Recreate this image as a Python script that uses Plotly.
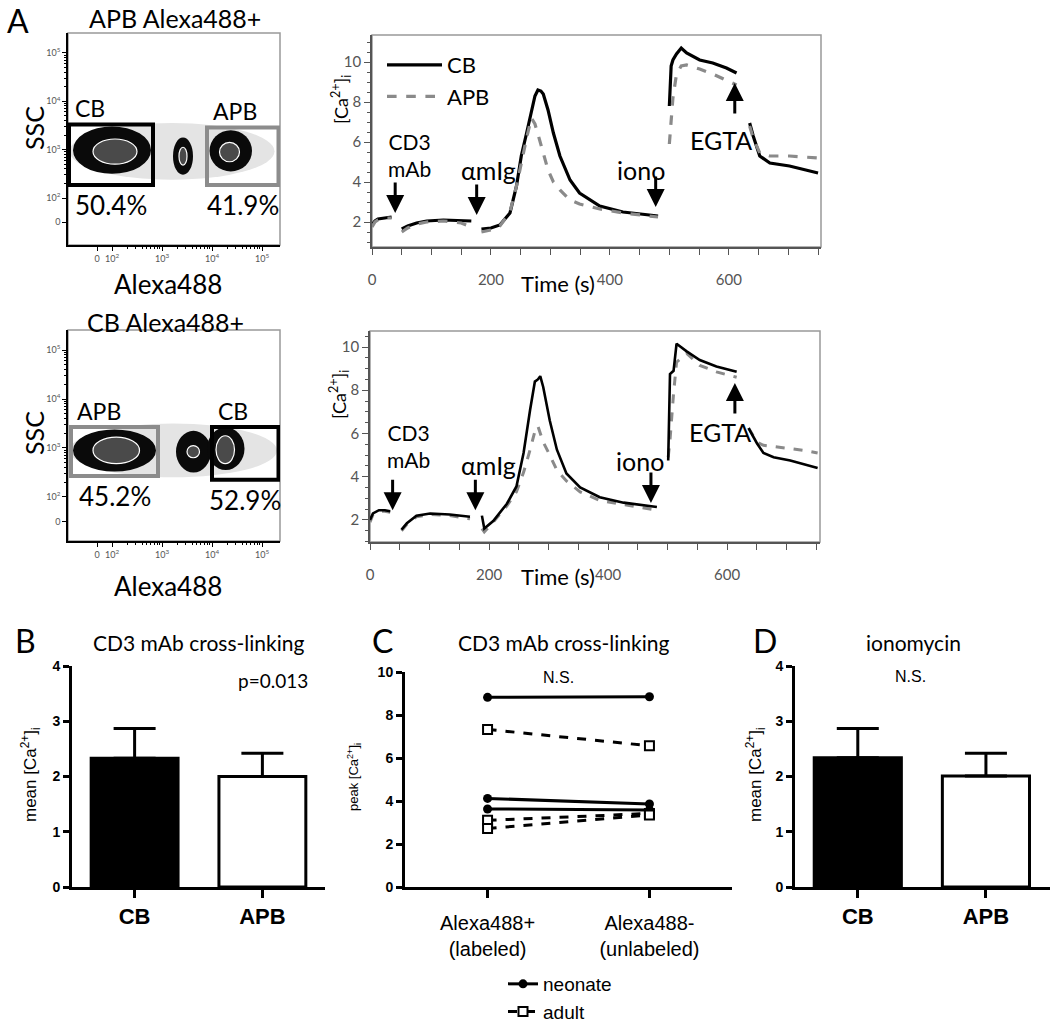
import math
import plotly.graph_objects as go

W, H = 1050, 1022
def px(x): return x / W
def py(y): return 1 - y / H

TXT = "Lato"
ARIAL = "Liberation Sans"

# ---------------- Panel A (flow plots) : axis units are log10 decades ----------------
flow_xtickvals = [1.7, 2, 3, 4, 5]
flow_ytickvals = [1.5, 2, 3, 4, 5]
flow_ticktext = ["0", "10<sup>2</sup>", "10<sup>3</sup>", "10<sup>4</sup>", "10<sup>5</sup>"]

top_halo = [1.15, 5.25, 2.38, 3.55]
top_pop_x0 = [1.22, 3.22, 3.95]
top_pop_x1 = [2.78, 3.62, 4.80]
top_pop_y0 = [2.50, 2.48, 2.55]
top_pop_y1 = [3.48, 3.25, 3.40]
top_core_x0 = [1.62, 3.34, 4.15]
top_core_x1 = [2.50, 3.50, 4.55]
top_core_y0 = [2.70, 2.68, 2.75]
top_core_y1 = [3.22, 3.05, 3.15]

bot_halo = [1.15, 5.30, 2.40, 3.50]
bot_pop_x0 = [1.22, 3.28, 3.90]
bot_pop_x1 = [2.88, 3.98, 4.65]
bot_pop_y0 = [2.52, 2.50, 2.55]
bot_pop_y1 = [3.38, 3.35, 3.42]
bot_core_x0 = [1.62, 3.50, 4.08]
bot_core_x1 = [2.55, 3.75, 4.45]
bot_core_y0 = [2.68, 2.80, 2.68]
bot_core_y1 = [3.22, 3.05, 3.25]

top_gate_name = ["CB", "APB"]
top_gate_pct = ["50.4%", "41.9%"]
top_gate_x0 = [1.14, 3.90]
top_gate_x1 = [2.82, 5.33]
top_gate_y0 = [2.27, 2.27]
top_gate_y1 = [3.52, 3.46]

bot_gate_name = ["APB", "CB"]
bot_gate_pct = ["45.2%", "52.9%"]
bot_gate_x0 = [1.18, 4.00]
bot_gate_x1 = [2.92, 5.33]
bot_gate_y0 = [2.43, 2.35]
bot_gate_y1 = [3.43, 3.43]

gate_color = {"CB": "black", "APB": "#8c8c8c"}

# ---------------- Panel A (calcium traces) ----------------
t_top = [0, 5, 10, 20, 33, None, 50, 60, 75, 92, 120, 150, 167, None,
         184, 200, 215, 232, 243, 251, 260, 268, 274, 279, 284, 288, 296, 305, 316, 333, 349, 383, 422, 481, None,
         500, 503, 506, 512, 520, 529, 551, 573, 596, 613, None,
         635, 641, 652, 669, 702, 730, 750]
cb_top = [1.85, 2.05, 2.15, 2.2, 2.25, None, 1.65, 1.8, 1.95, 2.05, 2.1, 2.05, 2.05, None,
          1.65, 1.7, 1.85, 2.45, 3.8, 5.3, 6.45, 7.6, 8.3, 8.6, 8.55, 8.4, 7.6, 6.45, 5.3, 4.1, 3.45, 2.8, 2.5, 2.3, None,
          7.8, 9.8, 10.1, 10.4, 10.7, 10.45, 10.1, 9.95, 9.7, 9.45, None,
          6.95, 6.3, 5.3, 4.95, 4.8, 4.6, 4.45]
apb_top = [1.75, 2.0, 2.1, 2.2, 2.2, None, 1.5, 1.7, 1.9, 2.0, 2.05, 1.95, 1.75, None,
           1.5, 1.6, 1.8, 2.5, 3.8, 5.0, 6.2, 7.2, 6.9, 6.4, 5.9, 5.4, 4.6, 4.0, 3.6, 3.1, 2.9, 2.65, 2.45, 2.25, None,
           5.9, 7.0, 8.2, 9.4, 9.8, 9.85, 9.65, 9.4, 9.1, 8.85, None,
           6.8, 6.2, 5.45, 5.3, 5.3, 5.25, 5.2]

t_bot = [0, 5, 15, 25, 34, None, 53, 62, 78, 101, 134, 168, None,
         188, 192, 207, 230, 246, 258, 269, 277, 282, 286, 291, 302, 314, 330, 353, 386, 426, 482, None,
         501, 504, 510, 515, 532, 554, 582, 616, None,
         636, 650, 661, 678, 706, 734, 752]
cb_bot = [2.0, 2.3, 2.45, 2.45, 2.4, None, 1.55, 1.85, 2.2, 2.3, 2.25, 2.15, None,
          2.2, 1.6, 1.95, 2.75, 3.55, 5.1, 7.1, 8.4, 8.5, 8.65, 8.15, 6.6, 5.25, 4.15, 3.5, 3.05, 2.8, 2.6, None,
          4.75, 8.75, 8.9, 10.15, 9.8, 9.4, 9.1, 8.85, None,
          6.25, 5.55, 5.1, 4.9, 4.75, 4.55, 4.4]
apb_bot = [1.9, 2.25, 2.4, 2.4, 2.35, None, 1.5, 1.8, 2.15, 2.25, 2.2, 2.05, None,
           1.6, 1.45, 1.9, 2.65, 3.3, 4.2, 5.25, 6.1, 6.35, 6.0, 5.6, 5.0, 4.3, 3.8, 3.3, 2.9, 2.7, 2.45, None,
           4.9, 5.7, 7.85, 9.3, 9.7, 9.15, 8.85, 8.6, None,
           6.25, 5.6, 5.45, 5.4, 5.3, 5.2, 5.1]

event_names = ["CD3<br>mAb", "\u03b1mIg", "iono", "EGTA"]
event_t_top = [39, 176, 477, 610]
event_v_top = [2.45, 2.35, 2.75, 8.95]
event_t_bot = [38, 177, 472, 613]
event_v_bot = [2.45, 2.45, 2.78, 8.33]
event_dir = [1, 1, 1, -1]  # 1 = arrow pointing down, -1 = pointing up

# ---------------- Panels B, C, D ----------------
bar_cats = ["CB", "APB"]
b_mean = [2.33, 2.00]
b_err = [0.54, 0.42]
d_mean = [2.34, 2.01]
d_err = [0.53, 0.41]

c_cats = ["Alexa488+<br>(labeled)", "Alexa488-<br>(unlabeled)"]
neonate_labeled = [8.82, 4.12, 3.63]
neonate_unlabeled = [8.85, 3.86, 3.58]
adult_labeled = [7.33, 3.10, 2.72]
adult_unlabeled = [6.57, 3.42, 3.35]

# =====================================================================
fig = go.Figure()
shapes = []
ann = []

def A(x, y, text, size, family=TXT, xanchor="center", yanchor="middle", **kw):
    ann.append(dict(x=px(x), y=py(y), xref="paper", yref="paper", text=text, showarrow=False,
                    font=dict(family=family, size=size, color="black"),
                    xanchor=xanchor, yanchor=yanchor, **kw))

# ---- flow plots ----
def flow_panel(xr, yr, halo, px0, px1, py0, py1, cx0, cx1, cy0, cy1, gname, gpct, gx0, gx1, gy0, gy1):
    fig.add_trace(go.Scatter(x=[], y=[], xaxis=xr, yaxis=yr, showlegend=False))
    shapes.append(dict(type="circle", xref=xr, yref=yr, x0=halo[0], x1=halo[1], y0=halo[2], y1=halo[3],
                       fillcolor="#e4e4e4", line=dict(width=0), layer="below"))
    for i in range(len(px0)):
        shapes.append(dict(type="circle", xref=xr, yref=yr, x0=px0[i], x1=px1[i], y0=py0[i], y1=py1[i],
                           fillcolor="#0a0a0a", line=dict(width=0), layer="below"))
        shapes.append(dict(type="circle", xref=xr, yref=yr, x0=cx0[i], x1=cx1[i], y0=cy0[i], y1=cy1[i],
                           fillcolor="#4a4a4a", line=dict(width=1.2, color="white"), layer="below"))
    for i in range(len(gname)):
        col = gate_color[gname[i]]
        shapes.append(dict(type="rect", xref=xr, yref=yr, x0=gx0[i], x1=gx1[i], y0=gy0[i], y1=gy1[i],
                           line=dict(width=4, color=col), layer="above"))
        ann.append(dict(x=gx0[i], y=gy1[i], xref=xr, yref=yr, text=gname[i], showarrow=False,
                        xanchor="left", yanchor="bottom", xshift=4, yshift=0,
                        font=dict(family=TXT, size=23, color="black")))
        ann.append(dict(x=(gx0[i] + gx1[i]) / 2, y=gy0[i], xref=xr, yref=yr, text=gpct[i], showarrow=False,
                        xanchor="center", yanchor="top", yshift=-2,
                        font=dict(family=TXT, size=26, color="black")))
    shapes.append(dict(type="rect", xref=xr + " domain", yref=yr + " domain", x0=0, x1=1, y0=0, y1=1,
                       line=dict(width=1.5, color="#999999"), layer="below"))

flow_panel("x", "y", top_halo, top_pop_x0, top_pop_x1, top_pop_y0, top_pop_y1,
           top_core_x0, top_core_x1, top_core_y0, top_core_y1,
           top_gate_name, top_gate_pct, top_gate_x0, top_gate_x1, top_gate_y0, top_gate_y1)
flow_panel("x2", "y2", bot_halo, bot_pop_x0, bot_pop_x1, bot_pop_y0, bot_pop_y1,
           bot_core_x0, bot_core_x1, bot_core_y0, bot_core_y1,
           bot_gate_name, bot_gate_pct, bot_gate_x0, bot_gate_x1, bot_gate_y0, bot_gate_y1)

minor_log = [d + math.log10(k) for d in (2, 3, 4) for k in range(2, 10)]
flow_ax = dict(showline=True, linecolor="black", linewidth=1.5, ticks="outside", ticklen=4, tickwidth=1,
               tickcolor="black", tickfont=dict(family=TXT, size=9, color="#555"), showgrid=False,
               zeroline=False, automargin=False,
               minor=dict(tickvals=minor_log, ticks="outside", ticklen=2, tickcolor="black"))

# ---- calcium traces ----
fig.add_trace(go.Scatter(x=t_top, y=cb_top, mode="lines", name="CB", xaxis="x3", yaxis="y3",
                         line=dict(color="black", width=3.2), connectgaps=False, legend="legend"))
fig.add_trace(go.Scatter(x=t_top, y=apb_top, mode="lines", name="APB", xaxis="x3", yaxis="y3",
                         line=dict(color="#8a8a8a", width=3.2, dash="dash"), connectgaps=False, legend="legend"))
fig.add_trace(go.Scatter(x=t_bot, y=apb_bot, mode="lines", name="APB", xaxis="x4", yaxis="y4", showlegend=False,
                         line=dict(color="#8a8a8a", width=3, dash="dash"), connectgaps=False))
fig.add_trace(go.Scatter(x=t_bot, y=cb_bot, mode="lines", name="CB", xaxis="x4", yaxis="y4", showlegend=False,
                         line=dict(color="black", width=2.6), connectgaps=False))

time_x = dict(showline=True, linecolor="#555", linewidth=1.5, ticks="outside", ticklen=6, tickcolor="#555",
              tickfont=dict(family=TXT, size=15, color="#555"), showgrid=False, zeroline=False,
              dtick=200, tick0=0, ticklabelstandoff=12, automargin=False,
              minor=dict(dtick=50, ticks="outside", ticklen=6, tickcolor="#555"))
time_y = dict(showline=True, linecolor="#555", linewidth=1.5, ticks="outside", ticklen=6, tickcolor="#555",
              tickfont=dict(family=TXT, size=15, color="#555"), showgrid=False, zeroline=False,
              dtick=2, tick0=0, automargin=False,
              minor=dict(dtick=0.5, ticks="outside", ticklen=3, tickcolor="#555"))
for xr, yr in (("x3", "y3"), ("x4", "y4")):
    shapes.append(dict(type="rect", xref=xr + " domain", yref=yr + " domain", x0=0, x1=1, y0=0, y1=1,
                       line=dict(width=1.5, color="#999999"), layer="below"))

def events(xr, yr, tt, vv, label_pos):
    for i, name in enumerate(event_names):
        d = event_dir[i]
        ann.append(dict(x=tt[i], y=vv[i], xref=xr, yref=yr, ax=0, ay=-32 * d, text="", showarrow=True,
                        arrowhead=2, arrowsize=1.2, arrowwidth=3, arrowcolor="black"))
        lx, ly = label_pos[i]
        sz = 21 if i == 0 else 25
        A(lx, ly, name, sz)

events("x3", "y3", event_t_top, event_v_top, [(409, 155), (488, 170), (641, 170), (721, 140)])
events("x4", "y4", event_t_bot, event_v_bot, [(408, 446), (488, 465), (640, 461), (720, 432)])

# ---- Panel B / D bars ----
for xr, yr, mean, err in (("x5", "y5", b_mean, b_err), ("x7", "y7", d_mean, d_err)):
    fig.add_trace(go.Bar(x=[0, 1], y=mean, xaxis=xr, yaxis=yr, width=0.68, showlegend=False,
                         marker=dict(color=["black", "white"], line=dict(color="black", width=3)),
                         error_y=dict(type="data", array=err, arrayminus=[0, 0], symmetric=False,
                                      color="black", thickness=3, width=21)))

bar_y = dict(showline=True, linecolor="black", linewidth=3, ticks="outside", ticklen=6, tickwidth=3,
             tickcolor="black", tickfont=dict(family=ARIAL, size=14, color="black"), showgrid=False,
             zeroline=False, range=[0, 4], tickvals=[0, 1, 2, 3, 4], automargin=False,
             ticktext=["<b>%d</b>" % v for v in [0, 1, 2, 3, 4]], ticklabelstandoff=0)
bar_x = dict(showline=True, linecolor="black", linewidth=3, ticks="outside", ticklen=8, tickwidth=3,
             tickcolor="black", tickfont=dict(family=ARIAL, size=22, color="black"), showgrid=False,
             zeroline=False, tickvals=[0, 1], automargin=False,
             ticktext=["<b>%s</b>" % c for c in bar_cats])

# ---- Panel C ----
for i in range(len(neonate_labeled)):
    fig.add_trace(go.Scatter(x=[0, 1], y=[neonate_labeled[i], neonate_unlabeled[i]], mode="lines+markers",
                             name="neonate", legendgroup="neo", showlegend=(i == 0), legend="legend2",
                             xaxis="x6", yaxis="y6", line=dict(color="black", width=3),
                             marker=dict(symbol="circle", size=9, color="black")))
for i in range(len(adult_labeled)):
    fig.add_trace(go.Scatter(x=[0, 1], y=[adult_labeled[i], adult_unlabeled[i]], mode="lines+markers",
                             name="adult", legendgroup="adu", showlegend=(i == 0), legend="legend2",
                             xaxis="x6", yaxis="y6", line=dict(color="black", width=3, dash="dash"),
                             marker=dict(symbol="square", size=9, color="white",
                                         line=dict(color="black", width=2))))

c_y = dict(bar_y, range=[0, 10], tickvals=[0, 2, 4, 6, 8, 10],
           ticktext=["<b>%d</b>" % v for v in [0, 2, 4, 6, 8, 10]])
c_x = dict(bar_x, tickvals=[0, 1], ticktext=c_cats, tickfont=dict(family=ARIAL, size=20, color="black"),
           ticklabelstandoff=8)

# ---- text annotations ----
A(18, 20, "A", 32)
A(175, 18, "APB Alexa488+", 25)
A(165, 322, "CB Alexa488+", 25)
A(34, 128, "SSC", 25, textangle=-90)
A(34, 433, "SSC", 25, textangle=-90)
A(168, 284, "Alexa488", 26)
A(168, 586, "Alexa488", 26)
A(341, 100, "[Ca<sup>2+</sup>]<sub>i</sub>", 18, textangle=-90)
A(339, 395, "[Ca<sup>2+</sup>]<sub>i</sub>", 18, textangle=-90)
A(558, 283, "Time (s)", 22)
A(558, 576, "Time (s)", 22)

A(25, 640, "B", 32)
A(198, 642, "CD3 mAb cross-linking", 21)
A(273, 680, "p=0.013", 19)
A(30, 775, "mean [Ca<sup>2+</sup>]<sub>i</sub>", 17, family=ARIAL, textangle=-90)

A(382, 640, "C", 32)
A(563, 642, "CD3 mAb cross-linking", 21)
A(558, 677, "N.S.", 16, family=ARIAL)
A(354, 777, "peak [Ca<sup>2+</sup>]<sub>i</sub>", 13, family=ARIAL, textangle=-90)

A(765, 640, "D", 32)
A(913, 642, "ionomycin", 21)
A(910, 676, "N.S.", 16, family=ARIAL)
A(755, 775, "mean [Ca<sup>2+</sup>]<sub>i</sub>", 17, family=ARIAL, textangle=-90)

fig.update_layout(
    template="none",
    width=W, height=H, margin=dict(l=0, r=0, t=0, b=0, pad=0, autoexpand=False),
    paper_bgcolor="white", plot_bgcolor="rgba(0,0,0,0)",
    xaxis=dict(flow_ax, domain=[px(68), px(280)], range=[1.12, 5.36], anchor="y",
               tickvals=flow_xtickvals, ticktext=flow_ticktext),
    yaxis=dict(flow_ax, domain=[py(245), py(33)], range=[1.03, 5.41], anchor="x",
               tickvals=flow_ytickvals, ticktext=flow_ticktext),
    xaxis2=dict(flow_ax, domain=[px(68), px(280)], range=[1.12, 5.36], anchor="y2",
                tickvals=flow_xtickvals, ticktext=flow_ticktext),
    yaxis2=dict(flow_ax, domain=[py(541), py(330)], range=[1.10, 5.41], anchor="x2",
                tickvals=flow_ytickvals, ticktext=flow_ticktext),
    xaxis3=dict(time_x, domain=[px(372), px(821)], range=[0, 755], anchor="y3"),
    yaxis3=dict(time_y, domain=[py(247), py(35)], range=[0.75, 11.35], anchor="x3"),
    xaxis4=dict(time_x, domain=[px(370), px(820)], range=[0, 756], anchor="y4"),
    yaxis4=dict(time_y, domain=[py(542), py(331)], range=[0.98, 10.74], anchor="x4"),
    xaxis5=dict(bar_x, domain=[px(72), px(325)], range=[-0.49, 1.49], anchor="y5"),
    yaxis5=dict(bar_y, domain=[py(887), py(666)], anchor="x5"),
    xaxis6=dict(c_x, domain=[px(405), px(732)], range=[-0.51, 1.51], anchor="y6"),
    yaxis6=dict(c_y, domain=[py(887), py(672)], anchor="x6"),
    xaxis7=dict(bar_x, domain=[px(795), px(1050)], range=[-0.49, 1.5], anchor="y7"),
    yaxis7=dict(bar_y, domain=[py(887), py(666)], anchor="x7"),
    legend=dict(x=px(382), y=py(44), xanchor="left", yanchor="top", bgcolor="rgba(0,0,0,0)",
                font=dict(family=TXT, size=22, color="black"), itemwidth=55, tracegroupgap=0),
    legend2=dict(x=px(503), y=py(965), xanchor="left", yanchor="top", bgcolor="rgba(0,0,0,0)",
                 font=dict(family=ARIAL, size=19, color="black"), itemwidth=30, tracegroupgap=0),
    shapes=shapes, annotations=ann,
)

fig.write_html("out.html", config={"displayModeBar": False},
               post_script="document.body.style.margin='0px';document.body.style.overflow='hidden';")
